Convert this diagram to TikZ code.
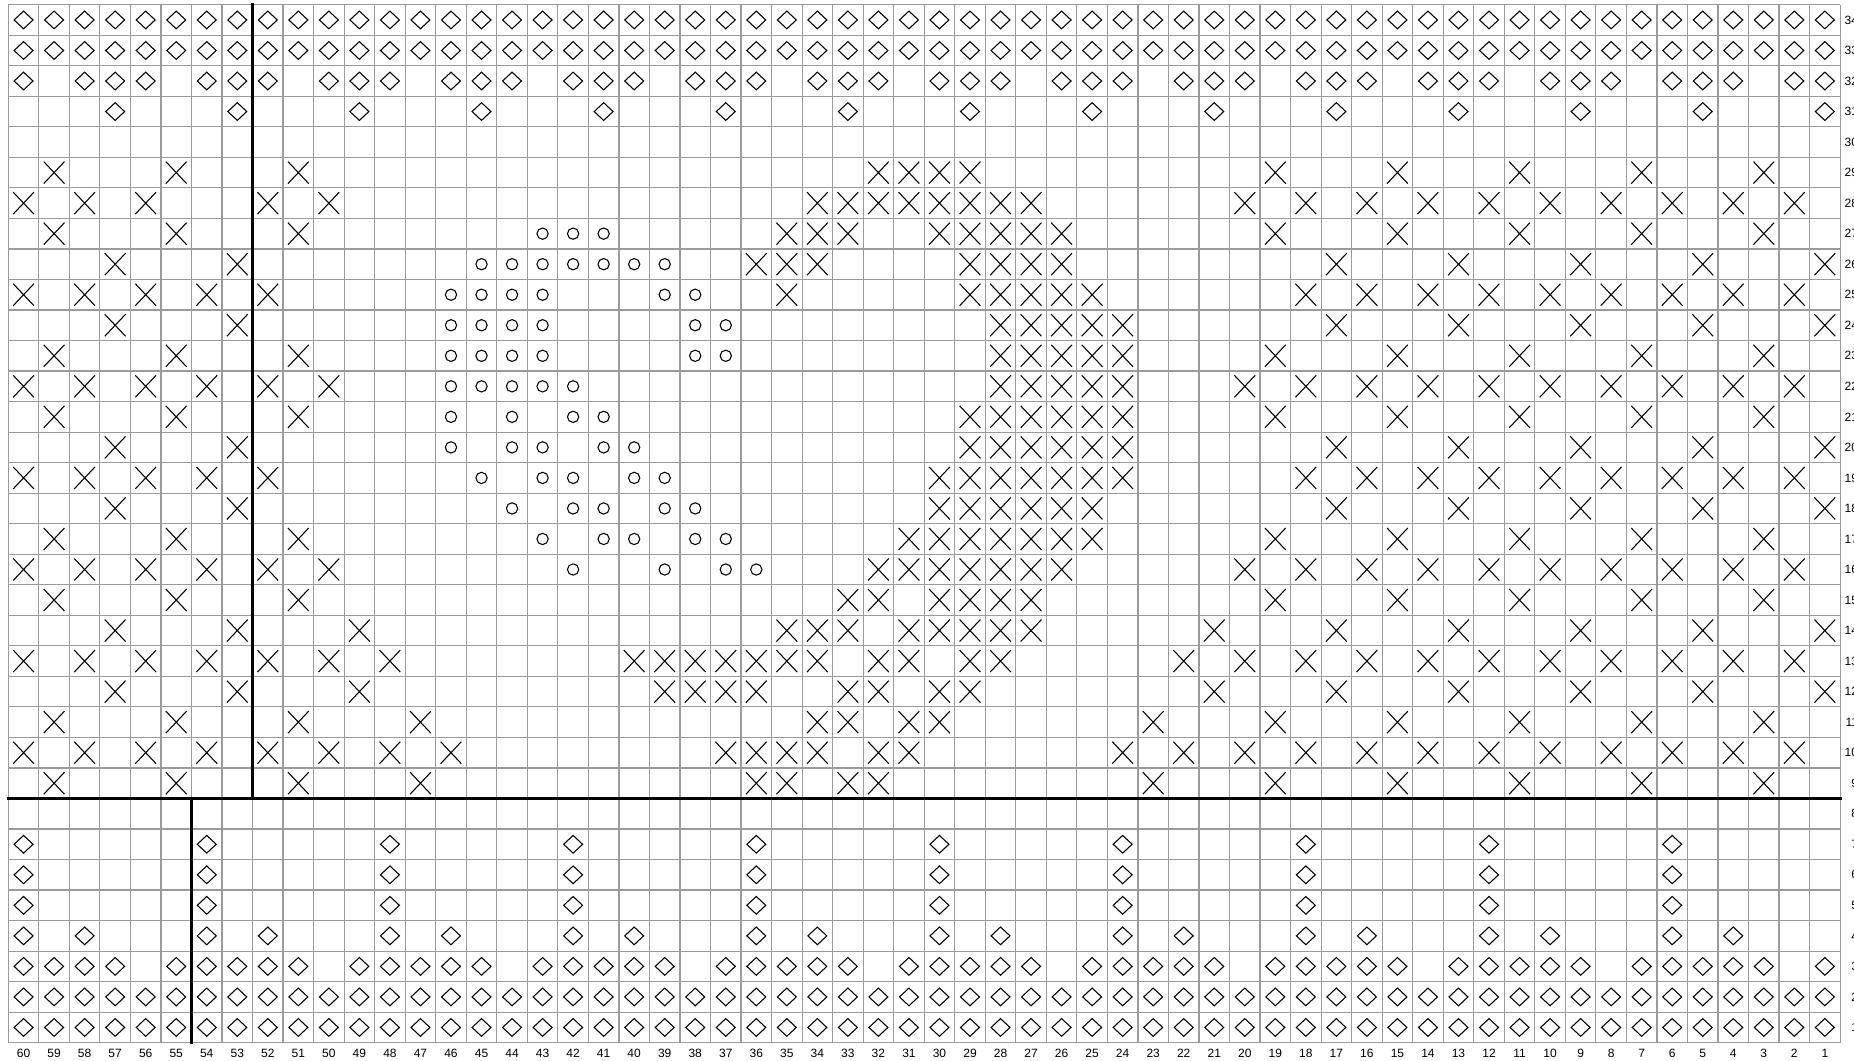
\documentclass[tikz,border=0pt]{standalone}
\usepackage{fontspec}
\setmainfont{Liberation Sans}
\usepackage{xcolor}
\usepackage{tikz}

\definecolor{gridgray}{RGB}{155,155,155}

\begin{document}
\begin{tikzpicture}[
        x=0.5cm, y=0.5cm,
        gridline/.style={draw=gridgray, line width=0.55pt},
        boldline/.style={draw=black, line width=1.4pt, line cap=rect},
        sym/.style={draw=black, line width=0.5pt},
        collabel/.style={anchor=base, inner sep=0pt, font=\fontsize{5.6}{6.7}\selectfont},
        rowlabel/.style={anchor=east, inner sep=0pt, font=\fontsize{5.6}{6.7}\selectfont},
        xst/.pic={\draw[sym] (-0.34,-0.36) -- (0.34,0.36) (-0.34,0.36) -- (0.34,-0.36);},
        dmd/.pic={\draw[sym] (0.31,0) -- (0,0.29) -- (-0.31,0) -- (0,-0.29) -- cycle;},
        bead/.pic={\draw[sym] (0,0) circle (0.185);}
    ]
    \clip[use as bounding box] (-0.272,-0.567) rectangle (60.455,34.154);

    \draw[gridline, step=0.5cm] (0,0) grid (60,34);

    % diamond rows, top and bottom borders
    \foreach \c in {1,...,60} {
        \foreach \r in {1,2,33,34} \pic at ({60.5-\c},{\r-0.5}) {dmd};
        \pgfmathtruncatemacro\modf{mod(\c,4)}
        \pgfmathtruncatemacro\mods{mod(\c,6)}
        \ifnum\modf=3 \else \pic at ({60.5-\c},31.5) {dmd}; \fi
        \ifnum\modf=1 \pic at ({60.5-\c},30.5) {dmd}; \fi
        \ifnum\mods=0 \foreach \r in {4,5,6,7} \pic at ({60.5-\c},{\r-0.5}) {dmd}; \fi
        \ifnum\mods=4 \pic at ({60.5-\c},3.5) {dmd}; \fi
        \ifnum\mods=2 \else \pic at ({60.5-\c},2.5) {dmd}; \fi
    }

    % crosses
    \foreach \r/\cols in {
        29/{59,55,51,32,31,30,29,19,15,11,7,3},
        28/{60,58,56,52,50,34,33,32,31,30,29,28,27,20,18,16,14,12,10,8,6,4,2},
        27/{59,55,51,35,34,33,30,29,28,27,26,19,15,11,7,3},
        26/{57,53,36,35,34,29,28,27,26,17,13,9,5,1},
        25/{60,58,56,54,52,35,29,28,27,26,25,18,16,14,12,10,8,6,4,2},
        24/{57,53,28,27,26,25,24,17,13,9,5,1},
        23/{59,55,51,28,27,26,25,24,19,15,11,7,3},
        22/{60,58,56,54,52,50,28,27,26,25,24,20,18,16,14,12,10,8,6,4,2},
        21/{59,55,51,29,28,27,26,25,24,19,15,11,7,3},
        20/{57,53,29,28,27,26,25,24,17,13,9,5,1},
        19/{60,58,56,54,52,30,29,28,27,26,25,24,18,16,14,12,10,8,6,4,2},
        18/{57,53,30,29,28,27,26,25,17,13,9,5,1},
        17/{59,55,51,31,30,29,28,27,26,25,19,15,11,7,3},
        16/{60,58,56,54,52,50,32,31,30,29,28,27,26,20,18,16,14,12,10,8,6,4,2},
        15/{59,55,51,33,32,30,29,28,27,19,15,11,7,3},
        14/{57,53,49,35,34,33,31,30,29,28,27,21,17,13,9,5,1},
        13/{60,58,56,54,52,50,48,40,39,38,37,36,35,34,32,31,29,28,22,20,18,16,14,12,10,8,6,4,2},
        12/{57,53,49,39,38,37,36,33,32,30,29,21,17,13,9,5,1},
        11/{59,55,51,47,34,33,31,30,23,19,15,11,7,3},
        10/{60,58,56,54,52,50,48,46,37,36,35,34,32,31,24,22,20,18,16,14,12,10,8,6,4,2},
        9/{59,55,51,47,36,35,33,32,23,19,15,11,7,3}}
        \foreach \c in \cols \pic at ({60.5-\c},{\r-0.5}) {xst};

    % beads
    \foreach \r/\cols in {
        27/{43,42,41},
        26/{45,44,43,42,41,40,39},
        25/{46,45,44,43,39,38},
        24/{46,45,44,43,38,37},
        23/{46,45,44,43,38,37},
        22/{46,45,44,43,42},
        21/{46,44,42,41},
        20/{46,44,43,41,40},
        19/{45,43,42,40,39},
        18/{44,42,41,39,38},
        17/{43,41,40,38,37},
        16/{42,39,37,36}}
        \foreach \c in \cols \pic at ({60.5-\c},{\r-0.5}) {bead};

    \draw[boldline] (0,8) -- (60,8);
    \draw[boldline] (8,8) -- (8,34);
    \draw[boldline] (6,0) -- (6,8);

    \foreach \c in {1,...,60}
        \node[collabel] (col\c) at ({60.5-\c},-0.485) {\c};
    \foreach \r in {1,...,34}
        \node[rowlabel] (row\r) at (60.6,{\r-0.5}) {\r};
\end{tikzpicture}
\end{document}
